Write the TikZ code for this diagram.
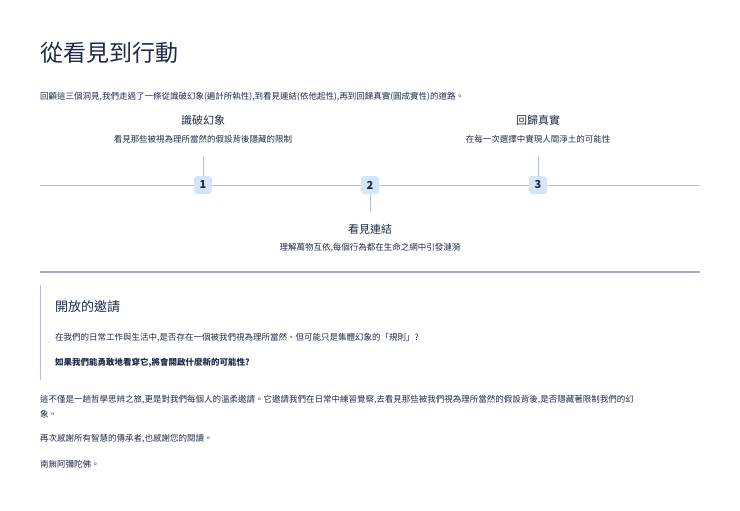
\documentclass[tikz,border=0pt]{standalone}
\usepackage{fontspec}
\setmainfont{Noto Sans CJK TC}
\newfontfamily\cjkb[BoldFont={Noto Sans CJK TC Bold}]{Noto Sans CJK TC}
\definecolor{ink}{HTML}{1F2A44}
\definecolor{tl}{HTML}{A9C4E4}
\definecolor{badge}{HTML}{D3E5FB}
\definecolor{sep}{HTML}{A8A8C8}
\begin{document}
\begin{tikzpicture}[x=1pt,y=-1pt,
  txt/.style={text=ink,inner sep=0pt},
  lt/.style={txt,anchor=base west},
  badgebox/.style={fill=badge,rounded corners=3pt,minimum width=18pt,minimum height=18pt,text=ink,font=\fontsize{11}{11}\selectfont\bfseries,inner sep=0pt},
  head/.style={txt,font=\fontsize{11}{13}\selectfont},
  sub/.style={txt,font=\fontsize{8.5}{10}\selectfont}]
\useasboundingbox (0,0) rectangle (740,511);
\node[lt,font=\fontsize{23}{26}\selectfont] (title) at (40,62) {從看見到行動};
\node[lt,font=\fontsize{8.5}{10}\selectfont] (intro) at (40,100) {回顧這三個洞見,我們走過了一條從識破幻象(遍計所執性),到看見連結(依他起性),再到回歸真實(圓成實性)的道路。};
\coordinate (tlL) at (40,185); \coordinate (tlR) at (700,185);
\draw[tl,line width=0.8pt] (tlL) -- (tlR);
\node[badgebox] (b1) at (203,185) {1};
\node[badgebox] (b2) at (370,185) {2};
\node[badgebox] (b3) at (538,185) {3};
\node[head] (h1) at (203,120) {識破幻象};
\node[sub] (s1) at (203,139) {看見那些被視為理所當然的假設背後隱藏的限制};
\node[head] (h3) at (538,120) {回歸真實};
\node[sub] (s3) at (538,139) {在每一次選擇中實現人間淨土的可能性};
\node[head] (h2) at (370,229) {看見連結};
\node[sub] (s2) at (370,248) {理解萬物互依,每個行為都在生命之網中引發漣漪};
\coordinate (c1) at (203,156); \coordinate (c3) at (538,156); \coordinate (c2) at (370,212);
\draw[tl,line width=0.8pt] (c1) -- (b1.north);
\draw[tl,line width=0.8pt] (c3) -- (b3.north);
\draw[tl,line width=0.8pt] (b2.south) -- (c2);
\coordinate (sL) at (40,272); \coordinate (sR) at (700,272);
\draw[sep,line width=1.5pt] (sL) -- (sR);
\coordinate (qt) at (40,285); \coordinate (qb) at (40,380);
\draw[tl,line width=1pt] (qt) -- (qb);
\node[lt,font=\fontsize{13}{15}\selectfont] (inv) at (55,311) {開放的邀請};
\node[lt,font=\fontsize{8.5}{10}\selectfont] (q1) at (55,340) {在我們的日常工作與生活中,是否存在一個被我們視為理所當然、但可能只是集體幻象的「規則」?};
\node[lt,font=\fontsize{8.5}{10}\selectfont\bfseries] (q2) at (55,365) {如果我們能勇敢地看穿它,將會開啟什麼新的可能性?};
\node[lt,font=\fontsize{8.5}{10}\selectfont] (p1) at (40,402) {這不僅是一趟哲學思辨之旅,更是對我們每個人的溫柔邀請。它邀請我們在日常中練習覺察,去看見那些被我們視為理所當然的假設背後,是否隱藏著限制我們的幻};
\node[lt,font=\fontsize{8.5}{10}\selectfont] (p1b) at (40,417) {象。};
\node[lt,font=\fontsize{8.5}{10}\selectfont] (p2) at (40,441) {再次感謝所有智慧的傳承者,也感謝您的閱讀。};
\node[lt,font=\fontsize{8.5}{10}\selectfont] (p3) at (40,467) {南無阿彌陀佛。};
\end{tikzpicture}
\end{document}
